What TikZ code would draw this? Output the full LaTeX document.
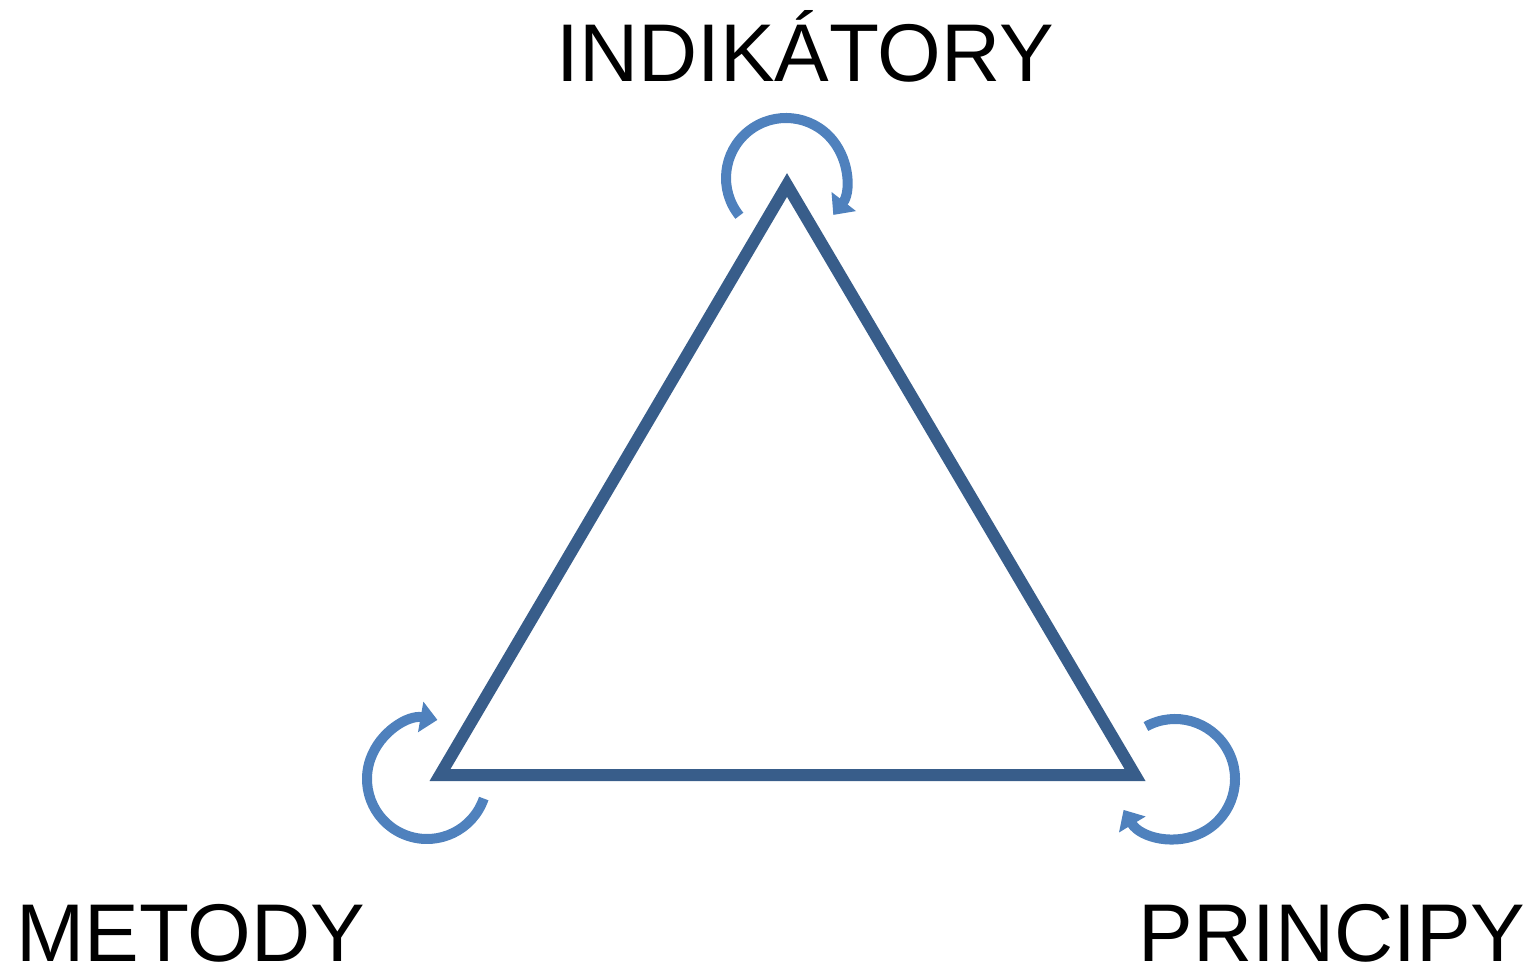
\documentclass[tikz,border=0pt]{standalone}
\usepackage{fontspec}
\setmainfont{Liberation Sans}
\usepackage{tikz}
\usetikzlibrary{arrows, arrows.meta}
\definecolor{triblue}{HTML}{385D8A}
\definecolor{arcblue}{HTML}{4F81BD}
\tikzset{side/.style = {draw = triblue, line width = 0.12cm, line join = miter}}
\tikzset{spin/.style = {draw = arcblue, line width = 0.10cm, -{Triangle[length = 0.17cm, width = 0.30cm]}}}
\tikzset{title/.style = {anchor = base, inner sep = 0pt, font = \fontsize{23.3}{28}\selectfont}}

\begin{document}
\begin{tikzpicture}
			\useasboundingbox (0, 0) rectangle (15.37, 9.73);

			\coordinate (ind) at (7.87, 7.88);
			\coordinate (met) at (4.40, 1.98);
			\coordinate (pri) at (11.35, 1.98);

			\node[title] (indtext) at (8.05, 8.91) {INDIKÁTORY};
			\node[title] (mettext) at (1.91, 0.12) {METODY};
			\node[title] (pritext) at (13.32, 0.12) {PRINCIPY};

			\draw[side] (ind) -- (met) -- (pri) -- cycle;

			% cyklicke sipky u vrcholu
			\draw[spin] ([shift = {(219:0.60)}] 7.86, 7.95) arc[start angle = 219, end angle = -38, radius = 0.60];
			\draw[spin] ([shift = {(-19:0.60)}] 4.27, 1.94) arc[start angle = -19, end angle = -280, radius = 0.60];
			\draw[spin] ([shift = {(119:0.60)}] 11.75, 1.94) arc[start angle = 119, end angle = -149, radius = 0.60];
		\end{tikzpicture}
\end{document}
